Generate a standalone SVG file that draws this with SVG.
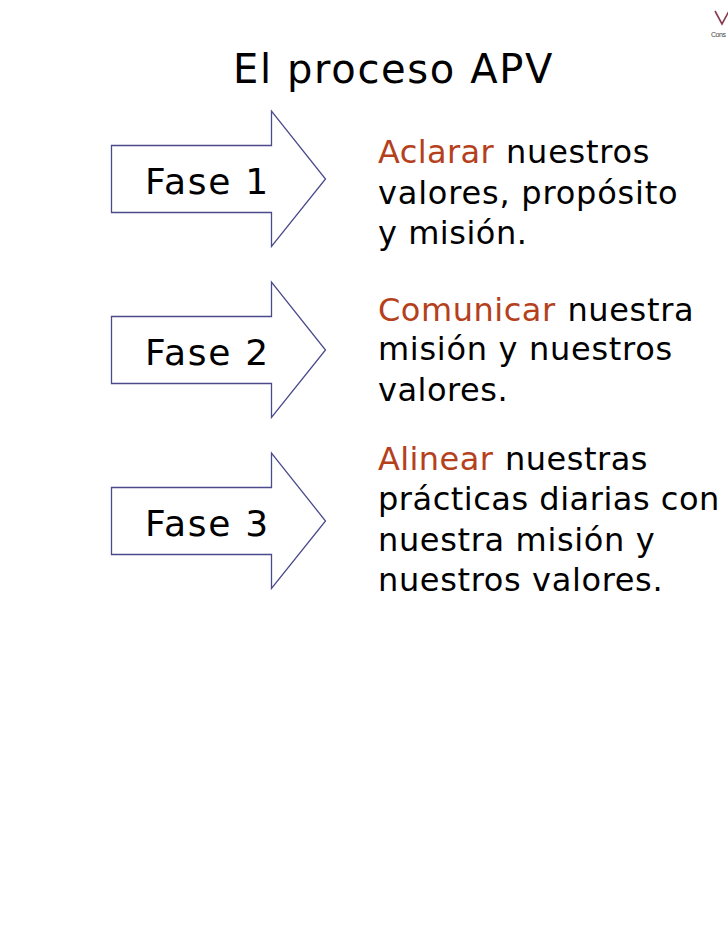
<svg xmlns="http://www.w3.org/2000/svg" width="728" height="943" viewBox="0 0 728 943">
<defs>
<style>
text{font-family:"DejaVu Sans",sans-serif;fill:#000}
.arrow{fill:#fff;stroke:#4a4a8c;stroke-width:1.300}
.fase{font-size:36px;letter-spacing:1.700px}
.body{font-size:32px;letter-spacing:0.520px}
.wide{letter-spacing:0.700px}
.red{fill:#b5401c}
</style>
<polygon id="arrow-shape" class="arrow" points="111.500,145.500 271.500,145.500 271.500,111 325.500,179 271.500,246.500 271.500,212.500 111.500,212.500"/>
</defs>
<rect width="728" height="943" fill="#fff"/>
<g id="title"><text x="233" y="83" font-size="40" letter-spacing="1.650">El proceso APV</text></g>
<g id="logo">
<path d="M715 11 L722 24 L729 11" fill="none" stroke="#8a3a50" stroke-width="1.600"/>
<text x="711" y="37" font-size="7" textLength="15" lengthAdjust="spacing" style="fill:#444;font-family:'Liberation Sans',sans-serif">Cons</text>
</g>
<g id="connectors"></g>
<g id="fase-1"><use href="#arrow-shape"/><text class="fase" x="145" y="194">Fase 1</text></g>
<g id="fase-2"><use href="#arrow-shape" y="171"/><text class="fase" x="145" y="365">Fase 2</text></g>
<g id="fase-3"><use href="#arrow-shape" y="342"/><text class="fase" x="145" y="536">Fase 3</text></g>
<g id="text-1">
<text class="body" x="378" y="163"><tspan class="red" style="letter-spacing:.4px">Aclarar</tspan><tspan dx="1" style="letter-spacing:.75px"> nuestros</tspan></text>
<text class="body" x="378" y="203.500" style="letter-spacing:.8px">valores, propósito</text>
<text class="body" x="378" y="243.500">y misión.</text>
</g>
<g id="text-2">
<text class="body" x="378" y="320.500"><tspan class="red">Comunicar</tspan><tspan dx="1" style="letter-spacing:.65px"> nuestra</tspan></text>
<text class="body wide" x="378" y="360">misión y nuestros</text>
<text class="body" x="378" y="400.500">valores.</text>
</g>
<g id="text-3">
<text class="body" x="378" y="470"><tspan class="red" style="letter-spacing:.4px">Alinear</tspan><tspan dx="1"> nuestras</tspan></text>
<text class="body" x="378" y="510">prácticas diarias con</text>
<text class="body" x="378" y="550.500" style="letter-spacing:.65px">nuestra misión y</text>
<text class="body" x="378" y="590.500" style="letter-spacing:.64px">nuestros valores.</text>
</g>
</svg>
